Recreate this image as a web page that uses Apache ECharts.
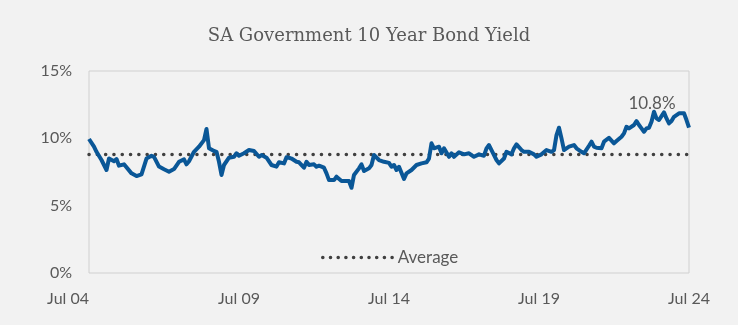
<!DOCTYPE html>
<html>
<head>
<meta charset="utf-8">
<script src="https://cdn.jsdelivr.net/npm/echarts@6/dist/echarts.min.js"></script>
<style>
  html, body { margin: 0; padding: 0; background: #ffffff; }
  #chart { width: 738px; height: 325px; background: #f2f2f2; }
</style>
</head>
<body>
<div id="chart"></div>
<script>
// month offsets from Jul 2004
const months = [
  0, 2, 3, 5, 7, 8, 10, 11, 12, 14, 17, 19, 21, 23, 25, 26, 28, 30, 32, 34, 36, 38, 39, 40,
  42, 44, 46, 47, 48, 50, 51, 52, 53, 54, 56, 58, 59, 60, 62, 64, 66, 68, 69, 71, 73, 75, 76, 78, 79, 80,
  81, 83, 84, 86, 87, 88, 90, 91, 92, 94, 95, 96, 98, 99, 101, 103, 104, 105, 106, 108, 109, 110, 112, 113, 114, 116, 118, 120,
  121, 122, 123, 124, 126, 127, 129, 131, 133, 135, 136, 137, 138, 140, 141, 142, 144, 145, 146, 148, 150, 152, 154, 156, 158, 159, 160,
  162, 163, 164, 166, 167, 169, 170, 171, 173, 174, 176, 178, 179, 181, 183, 185, 186, 187, 188, 189, 190, 192, 194, 195, 197, 198, 200, 201,
  202, 203, 205, 206, 208, 210, 211, 213, 214, 215, 216, 218, 219, 220, 221, 222, 223, 224, 225, 226, 227, 228, 230, 231, 232, 233, 234, 236, 238, 239, 240
];

// 10 year yield, %
const yields = [
  9.95, 9.38, 9.0, 8.39, 7.65, 8.5, 8.3, 8.46, 7.97, 8.07, 7.4, 7.2, 7.33, 8.5, 8.7, 8.63, 7.9, 7.7, 7.52, 7.72, 8.26, 8.44, 8.07, 8.3,
  9.0, 9.38, 9.87, 10.69, 9.26, 9.06, 9.0, 8.26, 7.28, 8.02, 8.56, 8.63, 8.89, 8.71, 8.89, 9.13, 9.06, 8.63, 8.76, 8.56, 8.02, 7.9, 8.22, 8.14, 8.6, 8.56,
  8.5, 8.26, 8.22, 7.82, 8.26, 8.02, 8.07, 7.89, 7.97, 7.82, 7.4, 6.9, 6.9, 7.15, 6.83, 6.83, 6.83, 6.33, 7.28, 7.77, 8.07, 7.57, 7.77, 8.02, 8.76, 8.39, 8.26, 8.18,
  7.89, 8.02, 7.65, 7.89, 6.98, 7.4, 7.65, 8.02, 8.14, 8.22, 8.5, 9.63, 9.26, 9.38, 8.89, 9.26, 8.63, 8.89, 8.63, 8.96, 8.81, 8.89, 8.63, 8.81, 8.71, 9.25, 9.5,
  8.76, 8.39, 8.14, 8.5, 9.0, 8.81, 9.26, 9.55, 9.13, 9.0, 9.0, 8.81, 8.63, 8.81, 9.13, 9.0, 9.13, 10.24, 10.79, 10.0, 9.13, 9.38, 9.5, 9.26, 9.0, 8.89, 9.45, 9.75,
  9.38, 9.3, 9.26, 9.75, 10.04, 9.63, 9.8, 10.12, 10.37, 10.86, 10.74, 10.99, 11.28, 10.99, 10.74, 10.49, 10.74, 10.79, 11.23, 11.97, 11.48, 11.36, 11.93, 11.48, 11.11, 11.28, 11.6, 11.86, 11.86, 11.36, 10.8
];

const averageYield = 8.8;
const xTicks = [0, 60, 120, 180, 240];
const yTicks = [0, 5, 10, 15];

const textColor = '#595959';
const labelFont = 'Lato, "Open Sans", sans-serif';
const avgLine = { color: '#404040', width: 3.5, type: [0.1, 8.2], cap: 'round' };

const chart = echarts.init(document.getElementById('chart'), null, { renderer: 'canvas' });

const lineData = months.map((m, i) => [m, yields[i]]);
const lastIdx = months.length - 1;

const option = {
  backgroundColor: '#f2f2f2',
  animation: false,
  title: {
    text: 'SA Government 10 Year Bond Yield',
    left: 'center',
    top: 22,
    textStyle: {
      fontFamily: '"DejaVu Serif", serif',
      fontSize: 18,
      fontWeight: 'normal',
      color: textColor,
    },
  },
  legend: {
    data: ['Average'],
    left: 316,
    top: 244,
    itemWidth: 70,
    itemHeight: 14,
    itemGap: 6,
    itemStyle: { opacity: 0 },
    lineStyle: { color: '#404040', width: 3.5, type: [0.1, 7.6], cap: 'round' },
    textStyle: {
      fontFamily: labelFont,
      fontSize: 17,
      color: textColor,
    },
  },
  grid: {
    left: 89,
    right: 49,
    top: 71,
    bottom: 52,
    show: true,
    borderColor: '#d0d0d0',
    borderWidth: 1,
    backgroundColor: 'transparent',
  },
  xAxis: {
    type: 'value',
    min: xTicks[0],
    max: xTicks[xTicks.length - 1],
    interval: 60,
    axisLine: { show: false },
    axisTick: { show: false },
    splitLine: { show: false },
    axisLabel: {
      margin: 18,
      color: textColor,
      fontFamily: labelFont,
      fontSize: 16,
      alignMinLabel: 'right',
      formatter: (v) => 'Jul ' + String((4 + v / 12) % 100).padStart(2, '0'),
    },
  },
  yAxis: {
    type: 'value',
    min: yTicks[0],
    max: yTicks[yTicks.length - 1],
    interval: 5,
    axisLine: { show: false },
    axisTick: { show: false },
    splitLine: { show: false },
    axisLabel: {
      margin: 17,
      color: textColor,
      fontFamily: labelFont,
      fontSize: 16,
      formatter: '{value}%',
    },
  },
  series: [
    {
      name: 'Yield',
      type: 'line',
      data: lineData,
      showSymbol: false,
      symbol: 'none',
      lineStyle: { color: '#0a5797', width: 4, join: 'round' },
      itemStyle: { color: '#0a5797' },
      z: 3,
      markPoint: {
        symbol: 'circle',
        symbolSize: 1,
        itemStyle: { color: 'transparent' },
        label: {
          show: true,
          position: 'inside',
          offset: [-37, -24],
          color: textColor,
          fontFamily: labelFont,
          fontSize: 17,
          formatter: () => yields[lastIdx].toFixed(1) + '%',
        },
        data: [{ coord: [months[lastIdx], yields[lastIdx]] }],
      },
    },
    {
      name: 'Average',
      type: 'line',
      data: [[xTicks[0], averageYield], [xTicks[xTicks.length - 1], averageYield]],
      showSymbol: false,
      symbol: 'none',
      lineStyle: avgLine,
      itemStyle: { color: '#404040' },
      z: 2,
    },
  ],
};

chart.setOption(option);
</script>
</body>
</html>
